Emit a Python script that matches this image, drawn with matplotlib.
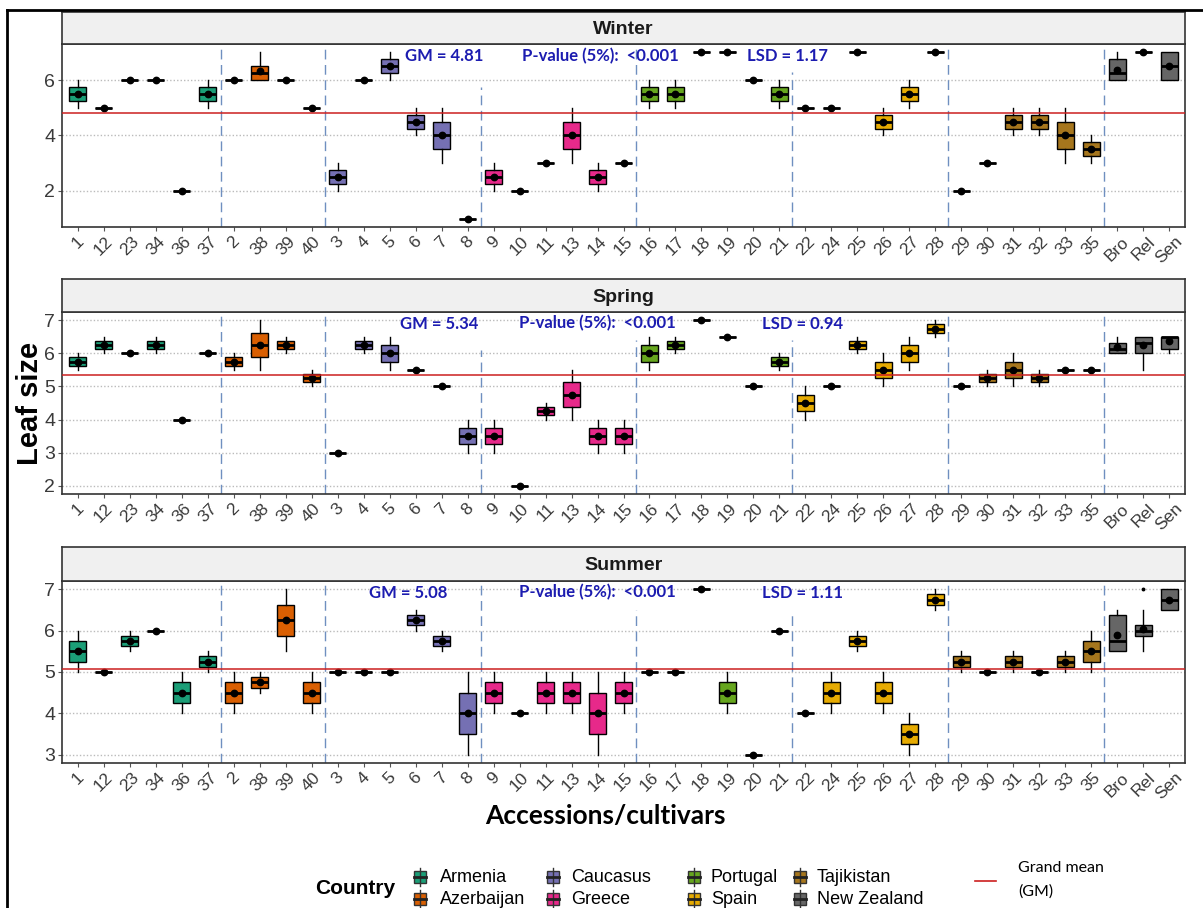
import matplotlib
matplotlib.use('Agg')
import matplotlib.pyplot as plt
from matplotlib.patches import Rectangle
from matplotlib.lines import Line2D

# accessions in plotting order, grouped by country
accessions = ['1', '12', '23', '34', '36', '37',
              '2', '38', '39', '40',
              '3', '4', '5', '6', '7', '8',
              '9', '10', '11', '13', '14', '15',
              '16', '17', '18', '19', '20', '21',
              '22', '24', '25', '26', '27', '28',
              '29', '30', '31', '32', '33', '35',
              'Bro', 'Rel', 'Sen']
countries = ['Armenia', 'Azerbaijan', 'Caucasus', 'Greece',
             'Portugal', 'Spain', 'Tajikistan', 'New Zealand']
group_sizes = [6, 4, 6, 6, 6, 6, 6, 3]
country_colors = ['#1B9E77', '#D95F02', '#7570B3', '#E7298A',
                  '#66A61E', '#E6AB02', '#A6761D', '#666666']

# ---- Winter ----
winter_lo = [5, 5, 6, 6, 2, 5,  6, 6, 6, 5,  2, 6, 6, 4, 3, 1,  2, 2, 3, 3, 2, 3,
             5, 5, 7, 7, 6, 5,  5, 5, 7, 4, 5, 7,  2, 3, 4, 4, 3, 3,  6, 7, 6]
winter_q1 = [5.25, 5, 6, 6, 2, 5.25,  6, 6, 6, 5,  2.25, 6, 6.25, 4.25, 3.5, 1,
             2.25, 2, 3, 3.5, 2.25, 3,  5.25, 5.25, 7, 7, 6, 5.25,
             5, 5, 7, 4.25, 5.25, 7,  2, 3, 4.25, 4.25, 3.5, 3.25,  6, 7, 6]
winter_med = [5.5, 5, 6, 6, 2, 5.5,  6, 6.25, 6, 5,  2.5, 6, 6.5, 4.5, 4, 1,
              2.5, 2, 3, 4, 2.5, 3,  5.5, 5.5, 7, 7, 6, 5.5,
              5, 5, 7, 4.5, 5.5, 7,  2, 3, 4.5, 4.5, 4, 3.5,  6.25, 7, 6.5]
winter_q3 = [5.75, 5, 6, 6, 2, 5.75,  6, 6.5, 6, 5,  2.75, 6, 6.75, 4.75, 4.5, 1,
             2.75, 2, 3, 4.5, 2.75, 3,  5.75, 5.75, 7, 7, 6, 5.75,
             5, 5, 7, 4.75, 5.75, 7,  2, 3, 4.75, 4.75, 4.5, 3.75,  6.75, 7, 7]
winter_hi = [6, 5, 6, 6, 2, 6,  6, 7, 6, 5,  3, 6, 7, 5, 5, 1,  3, 2, 3, 5, 3, 3,
             6, 6, 7, 7, 6, 6,  5, 5, 7, 5, 6, 7,  2, 3, 5, 5, 5, 4,  7, 7, 7]
winter_mean = [5.5, 5, 6, 6, 2, 5.5,  6, 6.33, 6, 5,  2.5, 6, 6.5, 4.5, 4, 1,
               2.5, 2, 3, 4, 2.5, 3,  5.5, 5.5, 7, 7, 6, 5.5,
               5, 5, 7, 4.5, 5.5, 7,  2, 3, 4.5, 4.5, 4, 3.5,  6.38, 7, 6.5]

# ---- Spring ----
spring_lo = [5.5, 6, 6, 6, 4, 6,  5.5, 5.5, 6, 5,  3, 6, 5.5, 5.5, 5, 3,
             3, 2, 4, 4, 3, 3,  5.5, 6, 7, 6.5, 5, 5.5,
             4, 5, 6, 5, 5.5, 6.5,  5, 5, 5, 5, 5.5, 5.5,  6, 5.5, 6]
spring_q1 = [5.625, 6.125, 6, 6.125, 4, 6,  5.625, 5.875, 6.125, 5.125,
             3, 6.125, 5.75, 5.5, 5, 3.25,  3.25, 2, 4.125, 4.375, 3.25, 3.25,
             5.75, 6.125, 7, 6.5, 5, 5.625,  4.25, 5, 6.125, 5.25, 5.75, 6.625,
             5, 5.125, 5.25, 5.125, 5.5, 5.5,  6, 6, 6.125]
spring_med = [5.75, 6.25, 6, 6.25, 4, 6,  5.75, 6.25, 6.25, 5.25,
              3, 6.25, 6, 5.5, 5, 3.5,  3.5, 2, 4.25, 4.75, 3.5, 3.5,
              6, 6.25, 7, 6.5, 5, 5.75,  4.5, 5, 6.25, 5.5, 6, 6.75,
              5, 5.25, 5.5, 5.25, 5.5, 5.5,  6.125, 6.3, 6.5]
spring_q3 = [5.875, 6.375, 6, 6.375, 4, 6,  5.875, 6.625, 6.375, 5.375,
             3, 6.375, 6.25, 5.5, 5, 3.75,  3.75, 2, 4.375, 5.125, 3.75, 3.75,
             6.25, 6.375, 7, 6.5, 5, 5.875,  4.75, 5, 6.375, 5.75, 6.25, 6.875,
             5, 5.375, 5.75, 5.375, 5.5, 5.5,  6.31, 6.5, 6.5]
spring_hi = [6, 6.5, 6, 6.5, 4, 6,  6, 7, 6.5, 5.5,  3, 6.5, 6.5, 5.5, 5, 4,
             4, 2, 4.5, 5.5, 4, 4,  6.5, 6.5, 7, 6.5, 5, 6,
             5, 5, 6.5, 6, 6.5, 7,  5, 5.5, 6, 5.5, 5.5, 5.5,  6.5, 6.5, 6.5]
spring_mean = [5.75, 6.25, 6, 6.25, 4, 6,  5.75, 6.25, 6.25, 5.25,
               3, 6.25, 6, 5.5, 5, 3.5,  3.5, 2, 4.25, 4.75, 3.5, 3.5,
               6, 6.25, 7, 6.5, 5, 5.75,  4.5, 5, 6.25, 5.5, 6, 6.75,
               5, 5.25, 5.5, 5.25, 5.5, 5.5,  6.19, 6.25, 6.38]

# ---- Summer ----
summer_lo = [5, 5, 5.5, 6, 4, 5,  4, 4.5, 5.5, 4,  5, 5, 5, 6, 5.5, 3,
             4, 4, 4, 4, 3, 4,  5, 5, 7, 4, 3, 6,  4, 4, 5.5, 4, 3, 6.5,
             5, 5, 5, 5, 5, 5,  5.5, 5.5, 6.5]
summer_q1 = [5.25, 5, 5.625, 6, 4.25, 5.125,  4.25, 4.625, 5.875, 4.25,
             5, 5, 5, 6.125, 5.625, 3.5,  4.25, 4, 4.25, 4.25, 3.5, 4.25,
             5, 5, 7, 4.25, 3, 6,  4, 4.25, 5.625, 4.25, 3.25, 6.625,
             5.125, 5, 5.125, 5, 5.125, 5.25,  5.5, 5.875, 6.5]
summer_med = [5.5, 5, 5.75, 6, 4.5, 5.25,  4.5, 4.75, 6.25, 4.5,
              5, 5, 5, 6.25, 5.75, 4,  4.5, 4, 4.5, 4.5, 4, 4.5,
              5, 5, 7, 4.5, 3, 6,  4, 4.5, 5.75, 4.5, 3.5, 6.75,
              5.25, 5, 5.25, 5, 5.25, 5.5,  5.75, 6, 6.75]
summer_q3 = [5.75, 5, 5.875, 6, 4.75, 5.375,  4.75, 4.875, 6.625, 4.75,
             5, 5, 5, 6.375, 5.875, 4.5,  4.75, 4, 4.75, 4.75, 4.5, 4.75,
             5, 5, 7, 4.75, 3, 6,  4, 4.75, 5.875, 4.75, 3.75, 6.875,
             5.375, 5, 5.375, 5, 5.375, 5.75,  6.375, 6.125, 7]
summer_hi = [6, 5, 6, 6, 5, 5.5,  5, 5, 7, 5,  5, 5, 5, 6.5, 6, 5,
             5, 4, 5, 5, 5, 5,  5, 5, 7, 5, 3, 6,  4, 5, 6, 5, 4, 7,
             5.5, 5, 5.5, 5, 5.5, 6,  6.5, 6.5, 7]
summer_mean = [5.5, 5, 5.75, 6, 4.5, 5.25,  4.5, 4.75, 6.25, 4.5,
               5, 5, 5, 6.25, 5.75, 4,  4.5, 4, 4.5, 4.5, 4, 4.5,
               5, 5, 7, 4.5, 3, 6,  4, 4.5, 5.75, 4.5, 3.5, 6.75,
               5.25, 5, 5.25, 5, 5.25, 5.5,  5.9, 6.05, 6.75]
summer_outliers = {'Rel': [7]}

grand_means = [4.81, 5.34, 5.08]
lsd_values = [1.17, 0.94, 1.11]
p_value_text = '<0.001'

seasons = [
    ('Winter', winter_lo, winter_q1, winter_med, winter_q3, winter_hi, winter_mean, {}),
    ('Spring', spring_lo, spring_q1, spring_med, spring_q3, spring_hi, spring_mean, {}),
    ('Summer', summer_lo, summer_q1, summer_med, summer_q3, summer_hi, summer_mean, summer_outliers),
]

W, H = 1203, 908
fig = plt.figure(figsize=(W / 100, H / 100), dpi=100)


def box_px(x0, y0, x1, y1):
    return [x0 / W, 1 - y1 / H, (x1 - x0) / W, (y1 - y0) / H]


# (strip top, panel top, panel bottom) in pixels
panel_rows = [(12, 44, 227), (279, 312, 494), (547, 581, 763)]
ylims = [(0.7, 7.3), (1.75, 7.25), (2.8, 7.2)]
yticks = [[2, 4, 6], [2, 3, 4, 5, 6, 7], [3, 4, 5, 6, 7]]
# how far down each group separator starts (None = from the top)
sep_tops = [[None, None, 5.75, None, 6.3, None, None],
            [None, None, 6.1, 6.4, 6.4, None, None],
            [None, None, None, 6.5, 6.4, None, None]]
label_x = [(14.1, 20.1, 27.3), (13.9, 20.0, 27.9), (12.7, 20.0, 27.9)]
label_y = [6.85, 6.9, 6.92]

arial = 'Liberation Sans'
calibri = 'Lato'
ann_blue = '#1C1CB0'
edge = '#333333'

box_colors = []
for c, n in zip(country_colors, group_sizes):
    box_colors += [c] * n

bounds = []
k = 0
for n in group_sizes[:-1]:
    k += n
    bounds.append(k - 0.5)

for p, (name, lo, q1, med, q3, hi, mean, outl) in enumerate(seasons):
    s_top, p_top, p_bot = panel_rows[p]
    ax = fig.add_axes(box_px(62, p_top, 1185, p_bot))
    strip = fig.add_axes(box_px(62, s_top, 1185, p_top))

    stats = []
    for i, acc in enumerate(accessions):
        stats.append(dict(med=med[i], q1=q1[i], q3=q3[i], whislo=lo[i],
                          whishi=hi[i], mean=mean[i], fliers=outl.get(acc, []),
                          label=acc))
    bp = ax.bxp(stats, positions=range(len(accessions)), widths=0.66,
                patch_artist=True, showcaps=False, showmeans=True,
                showfliers=True,
                boxprops=dict(edgecolor='black', linewidth=1.0),
                medianprops=dict(color='black', linewidth=2.0),
                whiskerprops=dict(color='black', linewidth=1.0),
                meanprops=dict(marker='o', markerfacecolor='black',
                               markeredgecolor='black', markersize=4.6),
                flierprops=dict(marker='o', markersize=1.8,
                                markerfacecolor='black', markeredgecolor='black'))
    for patch, col in zip(bp['boxes'], box_colors):
        patch.set_facecolor(col)
        patch.set_zorder(2)

    ax.set_xlim(-0.6, len(accessions) - 0.4)
    ax.set_ylim(*ylims[p])
    ax.set_yticks(yticks[p])
    ax.set_yticklabels([str(t) for t in yticks[p]], fontsize=14,
                       family=arial, color='#3A3A3A')
    ax.set_xticks(range(len(accessions)))
    ax.set_xticklabels(accessions, rotation=45, ha='center', va='top',
                       fontsize=12.5, family=arial, color='#3A3A3A')
    ax.tick_params(axis='both', length=3, color='#555555', pad=2)
    for t in yticks[p]:
        ax.axhline(t, color='#BBBBBB', linestyle=(0, (1, 1.5)), linewidth=1.0, zorder=0)

    y0, y1 = ylims[p]
    for b, top in zip(bounds, sep_tops[p]):
        ymax = 1.0 if top is None else (top - y0) / (y1 - y0)
        ax.axvline(b, ymin=0, ymax=ymax, color='#6F8FC0',
                   linestyle=(0, (7, 4)), linewidth=1.0, zorder=1)

    ax.axhline(grand_means[p], color='#CC1F1F', linewidth=1.1, zorder=3)

    gx, px_, lx = label_x[p]
    kw = dict(color=ann_blue, fontsize=12, fontweight='bold', family=calibri,
              ha='center', va='center', zorder=4)
    ax.text(gx, label_y[p], 'GM = %.2f' % grand_means[p], **kw)
    ax.text(px_, label_y[p], 'P-value (5%):  ' + p_value_text, **kw)
    ax.text(lx, label_y[p], 'LSD = %.2f' % lsd_values[p], **kw)

    for sp in ax.spines.values():
        sp.set_color(edge)
        sp.set_linewidth(1.2)

    strip.set_facecolor('#F0F0F0')
    strip.set_xticks([])
    strip.set_yticks([])
    for sp in strip.spines.values():
        sp.set_color(edge)
        sp.set_linewidth(1.2)
    strip.text(0.5, 0.45, name, transform=strip.transAxes, ha='center',
               va='center', fontsize=14, fontweight='bold', family=arial,
               color='#1A1A1A')

# axis titles
fig.text(30 / W, 1 - 403 / H, 'Leaf size', rotation=90, ha='center', va='center',
         fontsize=21, fontweight='bold', family=arial, color='black')
fig.text(605 / W, 1 - 816 / H, 'Accessions/cultivars', ha='center', va='center',
         fontsize=19, fontweight='bold', family=calibri, color='black')

# legend drawn in pixel space
leg = fig.add_axes([0, 0, 1, 1])
leg.set_xlim(0, W)
leg.set_ylim(H, 0)
leg.axis('off')
leg.patch.set_alpha(0)

leg.text(355, 889, 'Country', ha='center', va='center', fontsize=15,
         fontweight='bold', family=arial)
key_cols = [420, 553, 694, 800]
text_cols = [440, 571, 711, 817]
key_rows = [877, 899]
for j, (cname, col) in enumerate(zip(countries, country_colors)):
    c, r = divmod(j, 2)
    kx, ky = key_cols[c], key_rows[r]
    leg.add_line(Line2D([kx, kx], [ky - 9, ky + 9], color='#333333', lw=1))
    leg.add_patch(Rectangle((kx - 6, ky - 6), 12, 12, facecolor=col,
                            edgecolor='#333333', lw=1))
    leg.add_line(Line2D([kx - 6, kx + 6], [ky, ky], color='#222222', lw=2))
    leg.text(text_cols[c], ky, cname, ha='left', va='center', fontsize=13,
             family=arial, color='black')

leg.add_line(Line2D([975, 996], [881, 881], color='#CC1F1F', lw=1.2))
leg.text(1018, 868, 'Grand mean', ha='left', va='center', fontsize=11.5,
         family=calibri)
leg.text(1018, 892, '(GM)', ha='left', va='center', fontsize=11.5, family=calibri)

# outer frame
leg.add_line(Line2D([7, 7], [10, H], color='black', lw=2))
leg.add_line(Line2D([7, W], [10, 10], color='black', lw=2))

fig.savefig('out.png', dpi=100)
